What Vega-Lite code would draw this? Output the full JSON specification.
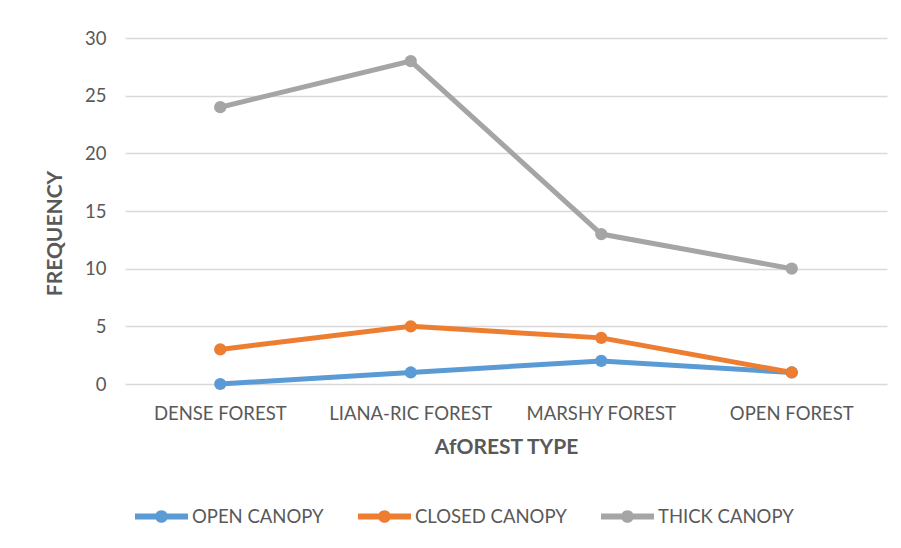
{
  "$schema": "https://vega.github.io/schema/vega-lite/v6.json",
  "width": 762,
  "height": 346,
  "autosize": "none",
  "padding": {"left": 125, "top": 38, "right": 14, "bottom": 164},
  "background": "white",
  "config": {
    "view": {"stroke": null},
    "font": "Lato",
    "axis": {"labelFont": "Lato", "titleFont": "Lato", "labelColor": "#595959", "titleColor": "#595959"}
  },
  "data": {
    "values": [
      {"type": "DENSE FOREST", "series": "OPEN CANOPY", "v": 0},
      {"type": "LIANA-RIC FOREST", "series": "OPEN CANOPY", "v": 1},
      {"type": "MARSHY FOREST", "series": "OPEN CANOPY", "v": 2},
      {"type": "OPEN FOREST", "series": "OPEN CANOPY", "v": 1},
      {"type": "DENSE FOREST", "series": "CLOSED CANOPY", "v": 3},
      {"type": "LIANA-RIC FOREST", "series": "CLOSED CANOPY", "v": 5},
      {"type": "MARSHY FOREST", "series": "CLOSED CANOPY", "v": 4},
      {"type": "OPEN FOREST", "series": "CLOSED CANOPY", "v": 1},
      {"type": "DENSE FOREST", "series": "THICK CANOPY", "v": 24},
      {"type": "LIANA-RIC FOREST", "series": "THICK CANOPY", "v": 28},
      {"type": "MARSHY FOREST", "series": "THICK CANOPY", "v": 13},
      {"type": "OPEN FOREST", "series": "THICK CANOPY", "v": 10}
    ]
  },
  "mark": {"type": "line", "strokeWidth": 5, "point": {"filled": true, "size": 150}},
  "encoding": {
    "x": {
      "field": "type", "type": "nominal", "sort": null,
      "scale": {"type": "band", "paddingInner": 0, "paddingOuter": 0},
      "axis": {"title": "AfOREST TYPE", "labelAngle": 0, "labelFontSize": 18.5, "titleFontSize": 21, "titleFontWeight": "bold", "labelPadding": 20, "titlePadding": 14, "ticks": false, "domain": false, "grid": false}
    },
    "y": {
      "field": "v", "type": "quantitative",
      "scale": {"domain": [0, 30]},
      "axis": {"title": "FREQUENCY", "values": [0, 5, 10, 15, 20, 25, 30], "labelFontSize": 18.5, "titleFontSize": 21, "titleFontWeight": "bold", "labelPadding": 19, "titleX": -70, "titleY": 195, "titleBaseline": "middle", "titleAngle": 270, "ticks": false, "domain": false, "gridColor": "#d9d9d9", "gridWidth": 1.5}
    },
    "color": {
      "field": "series", "type": "nominal",
      "sort": ["OPEN CANOPY", "CLOSED CANOPY", "THICK CANOPY"],
      "scale": {"domain": ["OPEN CANOPY", "CLOSED CANOPY", "THICK CANOPY"], "range": ["#5B9BD5", "#ED7D31", "#A5A5A5"]},
      "legend": {
        "title": null, "orient": "none", "direction": "horizontal", "legendX": 10, "legendY": 452,
        "symbolType": "M-1,-0.11 L1,-0.11 L1,0.11 L-1,0.11 Z M0.24,0 A0.24,0.24 0 1,1 -0.24,0 A0.24,0.24 0 1,1 0.24,0 Z",
        "symbolSize": 2809, "symbolStrokeWidth": 0, "labelFontSize": 18.5, "labelColor": "#595959", "labelFont": "Lato",
        "labelOffset": 4, "columnPadding": 34
      }
    }
  }
}
